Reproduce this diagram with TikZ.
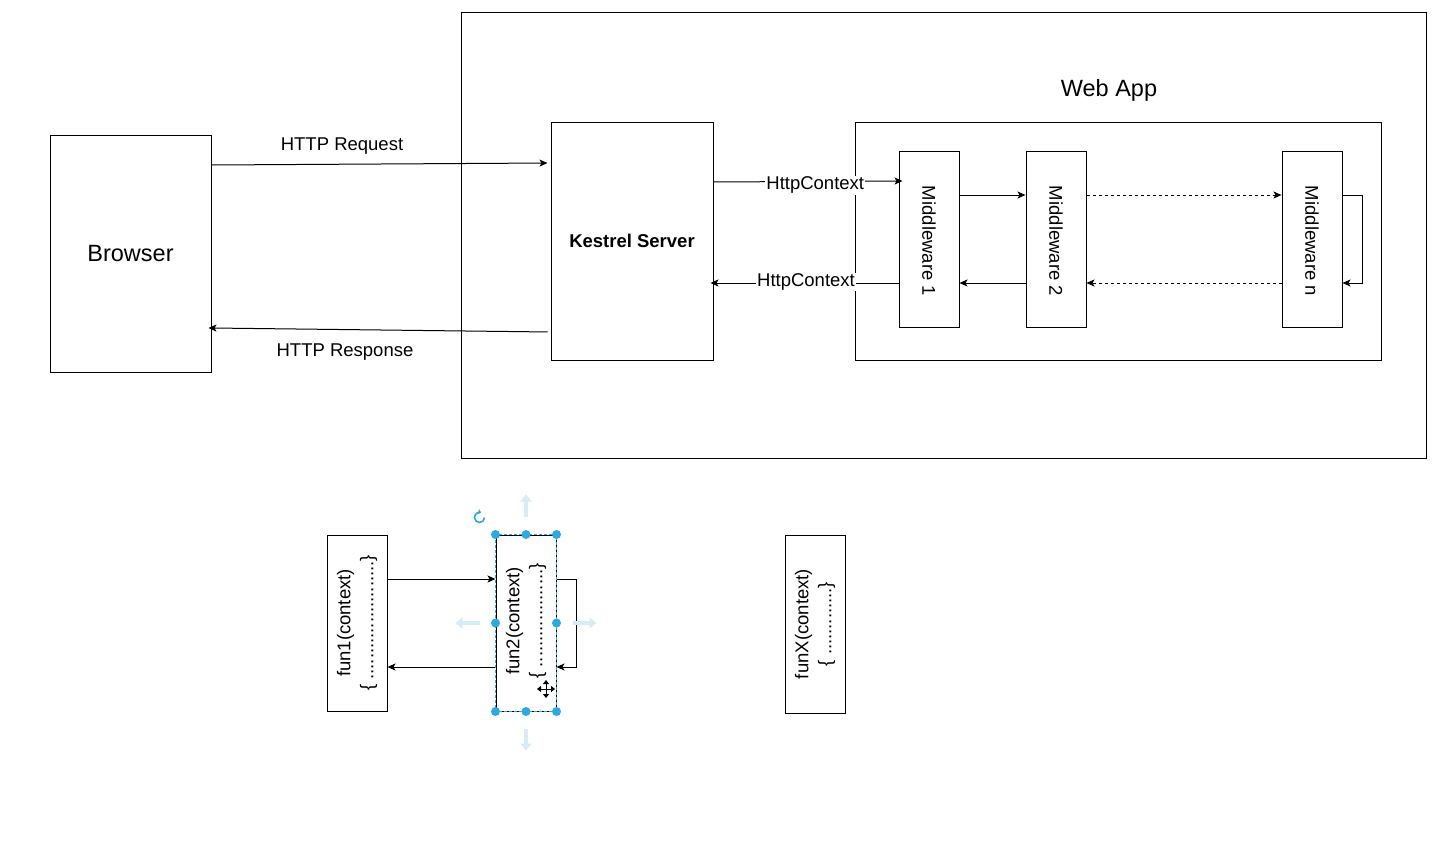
\documentclass[tikz,border=0pt]{standalone}
\usepackage{fontspec}
\setmainfont{Liberation Sans}
\usetikzlibrary{arrows.meta}
\definecolor{selblue}{HTML}{29A9E6}
\definecolor{hintblue}{HTML}{D6EDF9}
\begin{document}
\begin{tikzpicture}[x=1pt,y=-1pt,
  every node/.style={font=\fontsize{18.5}{23}\selectfont, inner sep=0pt},
  big/.style={font=\fontsize{23.5}{28}\selectfont},
  box/.style={draw=black, line width=1pt, minimum width=60pt, minimum height=176pt},
  conn/.style={line width=1pt, -{Stealth[length=8pt,width=7pt,inset=2pt]}},
  dconn/.style={conn, dash pattern=on 3pt off 3pt},
  lbl/.style={fill=white, inner sep=1pt},
  handle/.style={circle, fill=selblue, minimum size=9pt, inner sep=0pt},
  hint/.style={line width=3.5pt, draw=hintblue, -{Triangle[length=7pt,width=11pt]}}]

\fill[white] (0,0) rectangle (1451,843);
\useasboundingbox (0,0) rectangle (1451,843);

% hosting process and the application inside it
\node[box, minimum width=965pt, minimum height=445pt] (app) at (943.5,235.5) {};
\node[big] (apptitle) at (1109,90) {Web App};
\node[box, minimum width=526pt, minimum height=238pt] (pipe) at (1118,241) {};

\node[box, big, minimum width=161pt, minimum height=237pt] (browser) at (130.5,253.5) {Browser};
\node[box, minimum width=162pt, minimum height=238pt, font=\bfseries\fontsize{18.5}{23}\selectfont] (kestrel) at (632,241) {Kestrel Server};

% middleware pipeline
\node[box] (mw1) at (929,239) {};
\node[box] (mw2) at (1056,239) {};
\node[box] (mwn) at (1312,239) {};
\node[rotate=-90] (mw1t) at ([yshift=-2pt]mw1) {Middleware 1};
\node[rotate=-90] (mw2t) at ([yshift=-2pt]mw2) {Middleware 2};
\node[rotate=-90] (mwnt) at ([yshift=-2pt]mwn) {Middleware n};

% request / response between browser and server
\draw[conn, shorten >=3pt] (browser.east |- 0,165) -- (kestrel.west |- 0,163);
\node (reqlbl) at (342,146) {HTTP Request};
\draw[conn, shorten <=3pt, shorten >=-3pt] (kestrel.west |- 0,332) -- (browser.east |- 0,328);
\node (reslbl) at (345,352) {HTTP Response};

% HttpContext hand-over
\draw[conn, shorten >=-4pt] (kestrel.east |- 0,182) -- node[lbl, pos=0.55, yshift=-4pt] {HttpContext} (mw1.west |- 0,181);
\draw[conn, shorten >=-3pt] (mw1.west |- 0,283) -- node[lbl, pos=0.5, yshift=1pt] {HttpContext} (kestrel.east |- 0,283);

\draw[conn] (mw1.east |- 0,195) -- (mw2.west |- 0,195);
\draw[conn] (mw2.west |- 0,283) -- (mw1.east |- 0,283);
\draw[dconn] (mw2.east |- 0,195) -- (mwn.west |- 0,195);
\draw[dconn] (mwn.west |- 0,283) -- (mw2.east |- 0,283);
\draw[conn] (mwn.east |- 0,195) -- ++(20,0) |- (mwn.east |- 0,283);

% delegate chain
\node[box] (fun1) at (357,623) {};
\node[box] (fun2) at (526,623) {};
\node[box, minimum height=178pt] (funx) at (815,624) {};
\node[rotate=90, align=center] (fun1t) at (fun1) {fun1(context)\\\{ .......................\}};
\node[rotate=90, align=center] (fun2t) at ([yshift=2pt]fun2) {fun2(context)\\\{ ...................\}};
\node[rotate=90, align=center] (funxt) at (funx) {funX(context)\\\{ .............\}};

\draw[conn] (fun1.east |- 0,579) -- (fun2.west |- 0,579);
\draw[conn] (fun2.west |- 0,667) -- (fun1.east |- 0,667);
\draw[conn] (fun2.east |- 0,579) -- ++(20,0) |- (fun2.east |- 0,667);

% selection frame on fun2
\draw[selblue, line width=1pt, dash pattern=on 3pt off 2pt] (fun2.north west) rectangle (fun2.south east);
\foreach \a [count=\i] in {north west,north,north east,west,east,south west,south,south east}
  \node[handle] (hdl\i) at (fun2.\a) {};
\draw[hint] ([yshift=18pt]fun2.north) -- ([yshift=40pt]fun2.north);
\draw[hint] ([yshift=-17pt]fun2.south) -- ([yshift=-39pt]fun2.south);
\draw[hint] ([xshift=-16pt]fun2.west) -- ([xshift=-40pt]fun2.west);
\draw[hint] ([xshift=16pt]fun2.east) -- ([xshift=40pt]fun2.east);
\coordinate (rot) at ([xshift=-16pt,yshift=17pt]fun2.north west);
\draw[selblue, line width=1.6pt, -{Triangle[length=3pt,width=5pt]}] (rot) ++(5,0) arc (0:290:5);
\coordinate (cur) at (546,689);
\draw[line width=1pt, {Triangle[length=4pt,width=6pt]}-{Triangle[length=4pt,width=6pt]}] (cur) ++(-9,0) -- ++(18,0);
\draw[line width=1pt, {Triangle[length=4pt,width=6pt]}-{Triangle[length=4pt,width=6pt]}] (cur) ++(0,-9) -- ++(0,18);
\end{tikzpicture}
\end{document}
